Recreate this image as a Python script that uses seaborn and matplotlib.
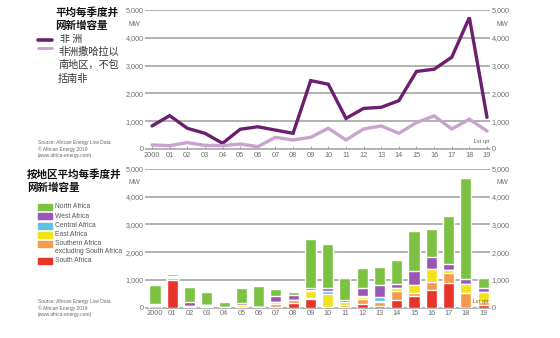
import numpy as np
import pandas as pd
import matplotlib
matplotlib.use("Agg")
import matplotlib.pyplot as plt
import seaborn as sns

years = ["2000", "01", "02", "03", "04", "05", "06", "07", "08", "09",
         "10", "11", "12", "13", "14", "15", "16", "17", "18", "19"]

africa = [830, 1200, 745, 565, 205, 710, 800, 680, 565, 2460,
          2330, 1100, 1460, 1500, 1740, 2790, 2870, 3300, 4730, 1140]
ssa_ex_sa = [145, 120, 230, 130, 120, 180, 85, 420, 325, 420,
             745, 325, 720, 830, 565, 950, 1190, 720, 1070, 650]

south_africa = [0, 1000, 0, 20, 0, 0, 0, 30, 160, 310,
                20, 30, 130, 50, 277, 420, 640, 880, 0, 95]
southern_ex_sa = [60, 80, 30, 50, 0, 40, 20, 100, 100, 50,
                  20, 60, 170, 150, 325, 120, 300, 385, 520, 120]
east_africa = [20, 20, 20, 30, 30, 40, 20, 80, 0, 250,
               450, 100, 100, 40, 95, 280, 445, 95, 325, 365]
central_africa = [0, 0, 0, 0, 0, 0, 0, 0, 20, 30,
                  110, 20, 20, 130, 0, 0, 0, 0, 0, 0]
west_africa = [40, 60, 150, 0, 0, 80, 0, 205, 180, 80,
               95, 70, 280, 445, 145, 520, 435, 220, 195, 140]
north_africa = [710, 40, 545, 465, 175, 550, 760, 245, 100, 1740,
                1600, 800, 720, 660, 880, 1440, 1010, 1710, 3650, 365]

region_names = ["South Africa", "Southern Africa\nexcluding South Africa", "East Africa",
                "Central Africa", "West Africa", "North Africa"]
region_values = [south_africa, southern_ex_sa, east_africa, central_africa, west_africa, north_africa]
region_colors = ["#e8332a", "#f59a4c", "#f2e21c", "#5cc3e0", "#9b55b5", "#7cc142"]

yticks = [0, 1000, 2000, 3000, 4000, 5000]
ytick_labels = ["0", "1,000", "2,000", "3,000", "4,000", "5,000"]

sns.set_theme(style="white")
plt.rcParams['font.family'] = ['Liberation Sans', 'DejaVu Sans']
CJK = ['Noto Sans CJK SC', 'DejaVu Sans']

W, H = 560, 338
fig = plt.figure(figsize=(W / 100, H / 100), dpi=100)
fig.patch.set_facecolor("white")

def fx(px):
    return px / W

def fy(py):
    return 1 - py / H

tick_color = "#6e6e6e"
grid_color = "#9c9c9c"

def style_axes(ax):
    ax.set_ylim(0, 5000)
    ax.set_yticks(yticks)
    ax.set_yticklabels(ytick_labels)
    ax.tick_params(axis="y", length=0, labelsize=5.2, labelcolor=tick_color,
                   labelleft=True, labelright=True, pad=1)
    ax.tick_params(axis="x", direction="in", length=2.5, width=0.6, color="#999999",
                   labelsize=5.3, labelcolor=tick_color, pad=2, bottom=True)
    for s in ["top", "right", "left"]:
        ax.spines[s].set_visible(False)
    ax.spines["bottom"].set_color("#aaaaaa")
    ax.spines["bottom"].set_linewidth(0.6)
    ax.yaxis.grid(True, color=grid_color, linewidth=1.1)
    ax.set_axisbelow(True)
    ax.set_xlabel("")
    ax.set_ylabel("")

# ---- Top line chart ----
ax1 = fig.add_axes([fx(145), fy(149), fx(490 - 145), (149 - 10) / H])
x_idx = np.arange(len(years))
df_line = pd.DataFrame({"x": np.concatenate([x_idx, x_idx]),
                        "MW": africa + ssa_ex_sa,
                        "series": ["africa"] * len(years) + ["ssa"] * len(years)})
sns.lineplot(data=df_line, x="x", y="MW", hue="series",
             palette={"africa": "#6b1f6e", "ssa": "#c9a2cf"},
             linewidth=2.4, legend=False, ax=ax1)
ax1.set_xlim(-0.4, 19.17)
ax1.set_xticks(x_idx)
ax1.set_xticklabels(years)
style_axes(ax1)
for l in ax1.lines:
    l.set_solid_joinstyle("miter")

# ---- Bottom stacked bars ----
ax2 = fig.add_axes([fx(145), fy(307.7), fx(490 - 145), (307.7 - 169) / H])
cum = np.cumsum(np.array(region_values), axis=0)
for i in range(len(region_values) - 1, -1, -1):
    dfb = pd.DataFrame({"year": years, "MW": cum[i]})
    sns.barplot(data=dfb, x="year", y="MW", color=region_colors[i], width=0.64,
                saturation=1, ax=ax2, zorder=3)
ax2.set_xlim(-0.58, 19.4)
style_axes(ax2)

# ---- Texts ----
for y_mw in [24, 182]:
    fig.text(fx(134), fy(y_mw), "MW", fontsize=4.8, color=tick_color, ha="center", va="center")
    fig.text(fx(502), fy(y_mw), "MW", fontsize=4.8, color=tick_color, ha="center", va="center")
fig.text(fx(481), fy(141), "1st qtr", fontsize=4.3, color=tick_color, ha="center", va="center")
fig.text(fx(480), fy(301), "1st qtr", fontsize=4.3, color="#8a6a00", ha="center", va="center")

fig.text(fx(55), fy(19), "平均每季度并\n网新增容量", family=CJK, fontsize=7.6,
         fontweight="bold", color="#111111", ha="left", va="center", linespacing=1.3)
fig.text(fx(27), fy(181), "按地区平均每季度并\n网新增容量", family=CJK, fontsize=7.6,
         fontweight="bold", color="#111111", ha="left", va="center", linespacing=1.3)

# top legend
fig.add_artist(plt.Line2D([fx(38), fx(52)], [fy(40), fy(40)], color="#6b1f6e", linewidth=2.6))
fig.add_artist(plt.Line2D([fx(38), fx(52)], [fy(48), fy(48)], color="#c9a2cf", linewidth=2.0))
fig.text(fx(60), fy(38.5), "非 洲", family=CJK, fontsize=7.2, color="#333333", ha="left", va="center")
fig.text(fx(58), fy(65), "非洲撒哈拉以\n南地区，不包\n括南非", family=CJK, fontsize=7.3,
         color="#333333", ha="left", va="center", linespacing=1.45)

source = "Source: African Energy Live Data\n© African Energy 2019\n(www.africa-energy.com)"
fig.text(fx(38), fy(149), source, fontsize=3.5, color="#666666", ha="left", va="center", linespacing=1.25)
fig.text(fx(38), fy(308), source, fontsize=3.5, color="#666666", ha="left", va="center", linespacing=1.25)

# bottom legend
leg_y = [207, 216, 225.5, 235, 244, 260.5]
leg_order = [5, 4, 3, 2, 1, 0]
for yy, idx in zip(leg_y, leg_order):
    fig.add_artist(plt.Rectangle((fx(38), fy(yy + 3)), fx(14), 6 / H,
                                 color=region_colors[idx], transform=fig.transFigure))
    name = region_names[idx]
    ty = yy + (3.5 if "\n" in name else 0)
    fig.text(fx(55), fy(ty), name, fontsize=4.9, color="#555555", ha="left", va="center",
             linespacing=1.15)

fig.savefig("out.png", dpi=100, facecolor="white")
